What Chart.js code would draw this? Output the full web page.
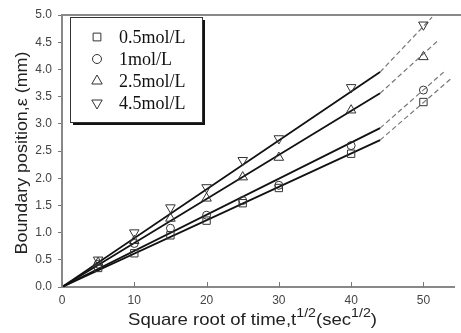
<!DOCTYPE html>
<html><head><meta charset="utf-8">
<script src="https://cdn.jsdelivr.net/npm/chart.js@4/dist/chart.umd.min.js"></script>
<style>html,body{margin:0;padding:0;background:#fff}#wrap{width:461px;height:333px;position:relative}</style>
</head><body><div id="wrap"><canvas id="c" width="461" height="333"></canvas></div>
<script>
const xVals = [5, 10, 15, 20, 25, 30, 40, 50];
const seriesNames = ['0.5mol/L', '1mol/L', '2.5mol/L', '4.5mol/L'];
const c05 = [0.35, 0.62, 0.95, 1.22, 1.54, 1.82, 2.45, 3.40];
const c1  = [0.42, 0.80, 1.08, 1.32, 1.59, 1.87, 2.60, 3.62];
const c25 = [0.45, 0.85, 1.26, 1.63, 2.02, 2.38, 3.25, 4.23];
const c45 = [0.50, 1.00, 1.46, 1.83, 2.33, 2.73, 3.67, 4.82];
// fitted lines: solid from origin to fitX, dashed extension to dashEndX
const fitX = 44;
const fitEnd = [2.70, 2.92, 3.56, 3.95];
const dashEndX = [53.9, 52.8, 52.1, 51.2];
const dashEndY = [3.84, 3.95, 4.54, 4.96];
const yTicks = [0, 0.5, 1, 1.5, 2, 2.5, 3, 3.5, 4, 4.5, 5];
const xTicks = [0, 10, 20, 30, 40, 50];

const allSeries = [c05, c1, c25, c45];
const styles = [
  {ps: 'rect', rot: 0, r: 5.2},
  {ps: 'circle', rot: 0, r: 4},
  {ps: 'triangle', rot: 0, r: 5.5},
  {ps: 'triangle', rot: 180, r: 5.5}
];
const legendR = [5.5, 4.5, 6, 6];

const datasets = [];
allSeries.forEach((s, i) => {
  datasets.push({
    label: 'fit' + i, type: 'line',
    data: [{x: 0, y: 0}, {x: fitX, y: fitEnd[i]}],
    borderColor: '#111', borderWidth: 1.8, pointRadius: 0, showLine: true, order: 2
  });
  datasets.push({
    label: 'ext' + i, type: 'line',
    data: [{x: fitX, y: fitEnd[i]}, {x: dashEndX[i], y: dashEndY[i]}],
    borderColor: '#777', borderWidth: 1.2, borderDash: [5, 3], pointRadius: 0, showLine: true, order: 2
  });
});
allSeries.forEach((s, i) => {
  datasets.push({
    label: seriesNames[i], type: 'scatter',
    data: s.map((v, k) => ({x: xVals[k], y: v})),
    pointStyle: styles[i].ps, rotation: styles[i].rot, radius: styles[i].r,
    pointBackgroundColor: 'rgba(255,255,255,0)', pointBorderColor: '#333', pointBorderWidth: 1,
    showLine: false, order: 1
  });
});

const decor = {
  id: 'decor',
  afterDraw(chart) {
    const ctx = chart.ctx, a = chart.chartArea;
    const xs = chart.scales.x;
    ctx.save();
    // top frame line
    ctx.strokeStyle = '#888'; ctx.lineWidth = 2;
    ctx.beginPath(); ctx.moveTo(a.left, a.top); ctx.lineTo(chart.width, a.top); ctx.stroke();
    // x ticks inside
    ctx.strokeStyle = '#777'; ctx.lineWidth = 1;
    xTicks.forEach(t => {
      const px = Math.round(xs.getPixelForValue(t)) + 0.5;
      ctx.beginPath(); ctx.moveTo(px, a.bottom); ctx.lineTo(px, a.bottom - 5); ctx.stroke();
    });
    // legend
    const lx = 70, ly = 17, lw = 132, lh = 105;
    ctx.fillStyle = '#111';
    ctx.fillRect(lx + 3, ly + 3, lw, lh);
    ctx.fillStyle = '#fff';
    ctx.fillRect(lx, ly, lw, lh);
    ctx.strokeStyle = '#333'; ctx.lineWidth = 1;
    ctx.strokeRect(lx + 0.5, ly + 0.5, lw, lh);
    const rowsY = [37, 59, 81, 103];
    ctx.font = '18px "Liberation Serif", "Times New Roman", serif';
    ctx.textBaseline = 'middle'; ctx.textAlign = 'left';
    seriesNames.forEach((n, i) => {
      ctx.strokeStyle = '#333'; ctx.fillStyle = 'rgba(255,255,255,0)'; ctx.lineWidth = 1;
      Chart.helpers.drawPoint(ctx, {pointStyle: styles[i].ps, rotation: styles[i].rot, radius: legendR[i], borderWidth: 1}, 97, rowsY[i]);
      ctx.fillStyle = '#111';
      ctx.fillText(n, 119, rowsY[i] + 1);
    });
    // x title with superscripts
    ctx.fillStyle = '#222'; ctx.textBaseline = 'alphabetic';
    const big = '17px "Liberation Sans", Arial, sans-serif';
    const sup = '13px "Liberation Sans", Arial, sans-serif';
    const parts = [['Square root of time,t', big, 0], ['1/2', sup, -8], ['(sec', big, 0], ['1/2', sup, -8], [')', big, 0]];
    let tw = 0;
    parts.forEach(p => { ctx.font = p[1]; tw += ctx.measureText(p[0]).width; });
    const target = 249, sx = target / tw;
    ctx.save();
    ctx.translate(128, 325); ctx.scale(sx, 1);
    let cx = 0;
    parts.forEach(p => { ctx.font = p[1]; ctx.fillText(p[0], cx, p[2]); cx += ctx.measureText(p[0]).width; });
    ctx.restore();
    // y title
    ctx.save();
    ctx.font = '17px "Liberation Sans", Arial, sans-serif';
    const yt = 'Boundary position,\u03B5 (mm)';
    const yw = ctx.measureText(yt).width;
    ctx.translate(27, 153); ctx.rotate(-Math.PI / 2);
    ctx.scale(203 / yw, 1);
    ctx.textAlign = 'center';
    ctx.fillText(yt, 0, 0);
    ctx.restore();
    ctx.restore();
  }
};

new Chart(document.getElementById('c'), {
  type: 'scatter',
  data: {datasets},
  options: {
    responsive: false, animation: false,
    layout: {padding: {top: 15, right: 0, left: 0, bottom: 0}},
    plugins: {legend: {display: false}, tooltip: {enabled: false}},
    scales: {
      x: {
        type: 'linear', min: 0, max: 54.3,
        afterBuildTicks: s => { s.ticks = xTicks.map(v => ({value: v})); },
        afterFit: s => { s.height = 46; },
        grid: {display: false, drawTicks: false},
        border: {color: '#888', width: 2},
        ticks: {color: '#444', padding: 6, font: {size: 12, family: '"Liberation Sans", Arial, sans-serif'}, callback: v => String(v)}
      },
      y: {
        type: 'linear', min: 0, max: 5,
        afterBuildTicks: s => { s.ticks = yTicks.map(v => ({value: v})); },
        afterFit: s => { s.width = 62; },
        grid: {display: true, drawOnChartArea: false, drawTicks: true, tickLength: 4, color: '#777'},
        border: {color: '#888', width: 2},
        ticks: {color: '#444', padding: 6, font: {size: 12, family: '"Liberation Sans", Arial, sans-serif'}, callback: v => v.toFixed(1)}
      }
    }
  },
  plugins: [decor]
});
</script></body></html>
